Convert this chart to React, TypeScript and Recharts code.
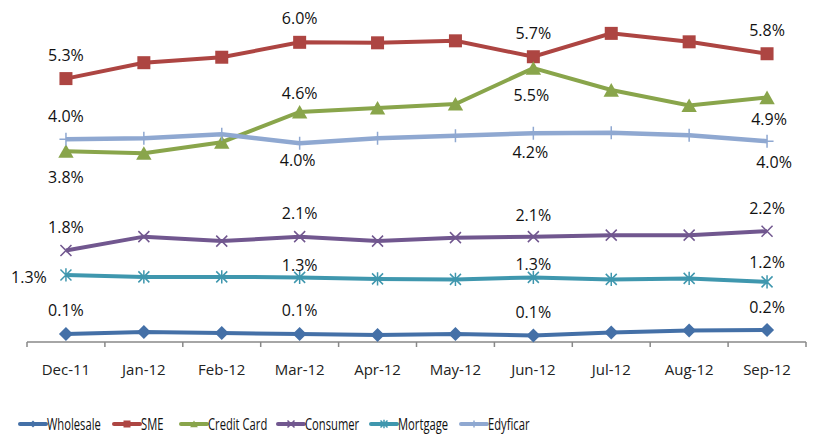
import { LineChart, Line, XAxis, YAxis, Legend, LabelList } from "recharts"

const months = ["Dec-11", "Jan-12", "Feb-12", "Mar-12", "Apr-12", "May-12", "Jun-12", "Jul-12", "Aug-12", "Sep-12"]
const wholesale = [0.12, 0.16, 0.14, 0.12, 0.1, 0.12, 0.09, 0.15, 0.19, 0.2]
const sme = [5.26, 5.58, 5.69, 5.99, 5.98, 6.02, 5.7, 6.17, 6.0, 5.76]
const creditCard = [3.8, 3.76, 3.98, 4.59, 4.67, 4.75, 5.47, 5.03, 4.72, 4.88]
const consumer = [1.8, 2.08, 1.99, 2.08, 1.99, 2.06, 2.08, 2.11, 2.11, 2.19]
const mortgage = [1.31, 1.27, 1.27, 1.26, 1.23, 1.22, 1.26, 1.22, 1.24, 1.17]
const edyficar = [4.04, 4.06, 4.14, 3.96, 4.06, 4.11, 4.16, 4.17, 4.12, 4.0]
// only these months carry a data label
const labelledIdx = [0, 3, 6, 9]

const data = months.map((m, i) => ({
  month: m,
  wholesale: wholesale[i],
  sme: sme[i],
  creditCard: creditCard[i],
  consumer: consumer[i],
  mortgage: mortgage[i],
  edyficar: edyficar[i],
}))

const W = 825
const H = 435
const margin = { top: 12, right: 19, bottom: 0, left: 27 }
const halfBand = (W - margin.left - margin.right) / months.length / 2

const labelFont = "'Open Sans', 'Noto Sans', sans-serif"
const legendSquash = 0.68 // the original legend uses a condensed face

type Marker = "diamond" | "square" | "triangle" | "x" | "star" | "plus"

// offsets: [dx, dy] of each label (at labelledIdx) relative to its point
// textW: legend slot width for the name
const series: { key: string; name: string; color: string; width: number; marker: Marker; offsets: number[][]; textW: number }[] = [
  { key: "wholesale", name: "Wholesale", color: "#4470a7", width: 4, marker: "diamond", offsets: [[0, -24], [0, -24], [0, -24], [0, -23]], textW: 48 },
  { key: "sme", name: "SME", color: "#ad4542", width: 4, marker: "square", offsets: [[0, -24], [0, -24], [0, -24], [0, -24]], textW: 21 },
  { key: "creditCard", name: "Credit Card", color: "#89a54b", width: 4, marker: "triangle", offsets: [[0, 26], [0, -19], [-2, 27], [2, 22]], textW: 51 },
  { key: "consumer", name: "Consumer", color: "#71578f", width: 4, marker: "x", offsets: [[0, -24], [0, -24], [0, -22], [0, -23]], textW: 47 },
  { key: "mortgage", name: "Mortgage", color: "#3f97ae", width: 4, marker: "star", offsets: [[-37, 2], [0, -12], [0, -13], [0, -20]], textW: 44 },
  { key: "edyficar", name: "Edyficar", color: "#8fa8d1", width: 4.5, marker: "plus", offsets: [[0, -23], [-2, 17], [-3, 19], [7, 21]], textW: 41 },
]

function drawMarker(kind: Marker, cx: number, cy: number, color: string, s: number, key?: string | number) {
  switch (kind) {
    case "diamond":
      return <path key={key} d={`M${cx},${cy - s}L${cx + s},${cy}L${cx},${cy + s}L${cx - s},${cy}Z`} fill={color} />
    case "square":
      return <rect key={key} x={cx - s} y={cy - s} width={2 * s} height={2 * s} fill={color} />
    case "triangle":
      return <path key={key} d={`M${cx},${cy - s}L${cx + s * 1.1},${cy + s * 0.95}L${cx - s * 1.1},${cy + s * 0.95}Z`} fill={color} />
    case "x":
      return (
        <path key={key} d={`M${cx - s},${cy - s}L${cx + s},${cy + s}M${cx + s},${cy - s}L${cx - s},${cy + s}`} stroke={color} strokeWidth={1.5} fill="none" />
      )
    case "star":
      return (
        <path
          key={key}
          d={`M${cx - s},${cy - s}L${cx + s},${cy + s}M${cx + s},${cy - s}L${cx - s},${cy + s}M${cx},${cy - s * 1.2}L${cx},${cy + s * 1.2}`}
          stroke={color}
          strokeWidth={1.5}
          fill="none"
        />
      )
    case "plus":
      return (
        <path key={key} d={`M${cx - s},${cy}L${cx + s},${cy}M${cx},${cy - s}L${cx},${cy + s}`} stroke={color} strokeWidth={1.5} fill="none" />
      )
  }
}

const markerSize: Record<Marker, number> = { diamond: 7, square: 6.5, triangle: 7, x: 5.5, star: 5.5, plus: 6.5 }

function AxisTick(props: any) {
  const { x, y, payload, index } = props
  return (
    <g>
      <line x1={x - halfBand} x2={x - halfBand} y1={y} y2={y + 5} stroke="#888" strokeWidth={1.5} />
      {index === months.length - 1 && <line x1={x + halfBand} x2={x + halfBand} y1={y} y2={y + 5} stroke="#888" strokeWidth={1.5} />}
      <text x={x} y={y + 27} textAnchor="middle" dominantBaseline="central" fontFamily={labelFont} fontSize={15} fontWeight={500} fill="#222">
        {payload.value}
      </text>
    </g>
  )
}

function LegendContent() {
  const cy = 17
  let cursor = 20
  const items = series.map((s) => {
    const x0 = cursor
    cursor += 26 + 1 + s.textW + 19
    return (
      <g key={s.key}>
        <line x1={x0} x2={x0 + 26} y1={cy} y2={cy} stroke={s.color} strokeWidth={4} strokeLinecap="round" />
        {drawMarker(s.marker, x0 + 13, cy, s.color, 3.5)}
        <text
          transform={`translate(${x0 + 27},${cy}) scale(${legendSquash},1)`}
          dominantBaseline="central"
          fontFamily={labelFont}
          fontSize={16.5}
          fill="#111"
        >
          {s.name}
        </text>
      </g>
    )
  })
  return (
    <svg width={W} height={28} style={{ display: "block" }}>
      {items}
    </svg>
  )
}

export default function App() {
  return (
    <div>
      <style>{"body{margin:0}"}</style>
      <LineChart width={W} height={H} data={data} margin={margin}>
        <XAxis
          dataKey="month"
          height={65}
          padding={{ left: halfBand, right: halfBand }}
          tickLine={false}
          tickSize={0}
          tickMargin={0}
          axisLine={{ stroke: "#888", strokeWidth: 1.5 }}
          tick={<AxisTick />}
          interval={0}
        />
        <YAxis hide domain={[-0.04, 6.6]} />
        <Legend verticalAlign="bottom" align="left" height={28} wrapperStyle={{ left: 0, width: W }} content={<LegendContent />} />
        {series.map((s) => (
          <Line
            key={s.key}
            dataKey={s.key}
            name={s.name}
            stroke={s.color}
            strokeWidth={s.width}
            isAnimationActive={false}
            dot={(p: any) => drawMarker(s.marker, p.cx, p.cy, s.color, markerSize[s.marker], p.index)}
            activeDot={false}
          >
            <LabelList
              dataKey={s.key}
              content={(p: any) => {
                const k = labelledIdx.indexOf(p.index)
                if (k < 0) return null
                const [dx, dy] = s.offsets[k]
                return (
                  <text
                    x={p.x + dx}
                    y={p.y + dy}
                    textAnchor="middle"
                    dominantBaseline="central"
                    fontFamily={labelFont}
                    fontSize={16}
                    fill="#111"
                  >
                    {`${Number(p.value).toFixed(1)}%`}
                  </text>
                )
              }}
            />
          </Line>
        ))}
      </LineChart>
    </div>
  )
}
